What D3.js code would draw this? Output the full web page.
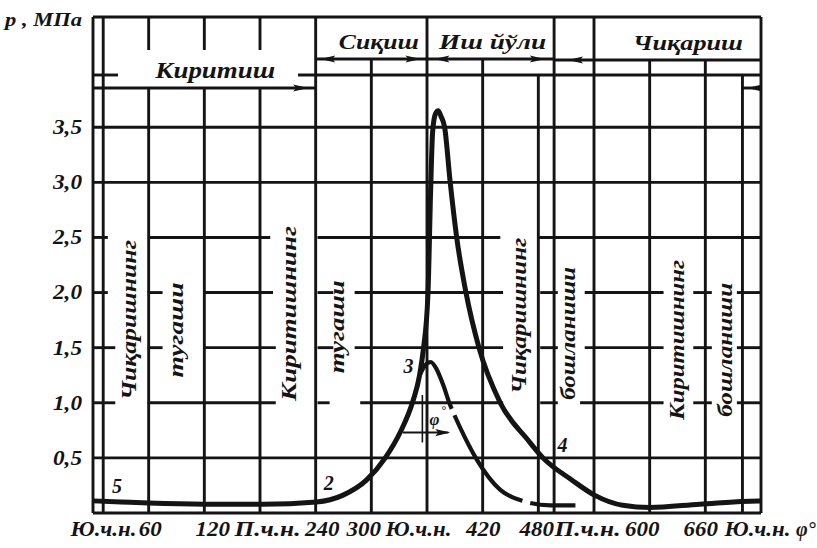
<!DOCTYPE html>
<html><head><meta charset="utf-8">
<script src="https://cdn.jsdelivr.net/npm/d3@7"></script>
<style>
html,body{margin:0;padding:0;background:#fff;}
svg text{font-family:"Liberation Serif","Times New Roman",serif;font-weight:bold;font-style:italic;fill:#141414;}
</style></head><body>
<svg id="c" width="817" height="548"></svg>
<script>
// ---------- data ----------
const angleTicks = [0,60,120,180,240,300,360,420,480,540,600,660,720];
const angleTickLabels = ["Ю.ч.н.","60","120","П.ч.н.","240","300","Ю.ч.н.","420","480","П.ч.н.","600","660","Ю.ч.н."];
const pressureTicks = [0.5,1.0,1.5,2.0,2.5,3.0,3.5];
const pressureTickLabels = ["0,5","1,0","1,5","2,0","2,5","3,0","3,5"];

// working cycle (indicator) curve: crank angle, deg / pressure, MPa
const cycleAngle    = [0,30,60,120,183,241,269,295,315,331,345,352,356,361,364,366,369,372,375,379,385,392,402,416,439,469,485,516,541,571,600,654,717,720];
const cyclePressure = [0.11,0.10,0.09,0.08,0.08,0.10,0.16,0.30,0.50,0.73,1.02,1.25,1.48,1.98,2.95,3.45,3.62,3.65,3.60,3.50,3.00,2.50,2.00,1.50,1.00,0.66,0.50,0.30,0.16,0.07,0.05,0.08,0.11,0.11];

// compression without ignition (dashed)
const motorAngle    = [352,358,364,370,378,384,390,400,414,439,463,493,520];
const motorPressure = [1.25,1.34,1.37,1.31,1.15,1.00,0.88,0.70,0.48,0.21,0.11,0.07,0.07];

const pointLabels = ["5","2","3","4"];
const pointAngles = [26, 254, 340, 506];
const pointPressures = [0.18, 0.21, 1.27, 0.55];

const sideLabels = ["Чиқаришнинг","тугаши","Киритишнинг","тугаши","Чиқаришнинг","бошланиши","Киритишнинг","бошланиши"];
const sideAngles = [38, 89, 211, 263, 459, 512, 629, 681];
const sidePressures = [1.75,1.66,1.81,1.69,1.79,1.63,1.57,1.48];

const strokeNames = ["Киритиш","Сиқиш","Иш йўли","Чиқариш"];

// ---------- layout ----------
const INK = "#141414";
const x = d3.scaleLinear().domain([0,720]).range([93,761]);
const y = d3.scaleLinear().domain([0,4.5]).range([513,17]);
const svg = d3.select("#c");
const g = svg.append("g");

// horizontal grid segments (deg ranges)
const hGrid = [
  {p:0,   segs:[[0,720]]},
  {p:0.5, segs:[[0,720]]},
  {p:1.0, segs:[[0,24],[59,197],[242,255],[288,442],[482,501],[525,615],[647,667],[694,720]]},
  {p:1.5, segs:[[0,24],[59,75],[120,197],[242,259],[282,442],[482,501],[530,615],[647,667],[694,720]]},
  {p:2.0, segs:[[0,16],[59,75],[120,194],[242,259],[282,442],[482,501],[530,615],[647,667],[694,720]]},
  {p:2.5, segs:[[0,16],[61,191],[242,439],[480,720]]},
  {p:3.0, segs:[[0,720]]},
  {p:3.5, segs:[[0,720]]}
];
hGrid.forEach(r => r.segs.forEach(s => {
  g.append("line").attr("x1",x(s[0])).attr("x2",x(s[1]))
    .attr("y1",y(r.p)).attr("y2",y(r.p))
    .attr("stroke",INK).attr("stroke-width",2.9);
}));

// vertical grid lines (header layout in px)
const vGrid = [
  {a:0,   segs:[[17,513]]},
  {a:11,  segs:[[17,513]]},
  {a:60,  segs:[[17,50],[88,513]]},
  {a:120, segs:[[17,50],[88,513]]},
  {a:180, segs:[[17,50],[88,513]]},
  {a:240, segs:[[17,513]]},
  {a:300, segs:[[59,513]]},
  {a:360, segs:[[17,513]]},
  {a:420, segs:[[59,513]]},
  {a:480, segs:[[75,513]]},
  {a:497, segs:[[17,513]]},
  {a:540, segs:[[17,513]]},
  {a:600, segs:[[60,513]]},
  {a:660, segs:[[60,513]]},
  {a:700, segs:[[75,513]]},
  {a:720, segs:[[17,513]]}
];
vGrid.forEach(r => r.segs.forEach(s => {
  g.append("line").attr("x1",x(r.a)).attr("x2",x(r.a))
    .attr("y1",s[0]).attr("y2",s[1])
    .attr("stroke",INK).attr("stroke-width",2.9);
}));

// header lines
function hline(a0,a1,yy){
  g.append("line").attr("x1",x(a0)).attr("x2",x(a1)).attr("y1",yy).attr("y2",yy)
   .attr("stroke",INK).attr("stroke-width",2.9);
}
function arrowHead(tipX, yy, dir){
  const L = 15, h = 3.6;
  g.append("path")
   .attr("d",`M${tipX},${yy} L${tipX-dir*L},${yy-h} L${tipX-dir*L*0.8},${yy} L${tipX-dir*L},${yy+h} Z`)
   .attr("fill",INK);
}
hline(0,720,17);
hline(0,27,75); hline(221,720,75);
hline(0,240,88); arrowHead(x(232),88,1);
hline(240,360,59); arrowHead(x(245),59,-1); arrowHead(x(353),59,1);
hline(360,497,59); arrowHead(x(368),59,-1); arrowHead(x(487),59,1);
hline(497,720,60); arrowHead(x(512),60,-1);
hline(700,720,88); arrowHead(x(705),88,-1);

// header labels
const hdr = [
  {t:strokeNames[0], a:67,  yy:78, len:120, fs:24},
  {t:strokeNames[1], a:265, yy:49, len:80,  fs:21},
  {t:strokeNames[2], a:373, yy:49, len:107, fs:21},
  {t:strokeNames[3], a:582, yy:50, len:110, fs:21}
];
hdr.forEach(h => {
  g.append("text").attr("x",x(h.a)).attr("y",h.yy).attr("font-size",h.fs)
   .attr("textLength",h.len).attr("lengthAdjust","spacingAndGlyphs").text(h.t);
});

// side (rotated) labels
const sideLen = [160,95,175,93,156,133,160,134];
sideLabels.forEach((t,i) => {
  g.append("text")
   .attr("transform",`translate(${x(sideAngles[i])},${y(sidePressures[i])}) rotate(-90)`)
   .attr("text-anchor","middle").attr("dy","0.35em").attr("font-size",21)
   .attr("textLength",sideLen[i]).attr("lengthAdjust","spacingAndGlyphs").text(t);
});

// curves
const line = d3.line().x(d=>x(d[0])).y(d=>y(d[1])).curve(d3.curveMonotoneX);
const cycle = cycleAngle.map((a,i)=>[a,cyclePressure[i]]);
const motor = motorAngle.map((a,i)=>[a,motorPressure[i]]);

g.append("path").datum(motor).attr("d",line).attr("fill","none")
 .attr("stroke",INK).attr("stroke-width",4.2).attr("stroke-dasharray","70 7 113 8 200");
g.append("path").datum(cycle).attr("d",line).attr("fill","none")
 .attr("stroke",INK).attr("stroke-width",5).attr("stroke-linejoin","round");

// phi annotation
g.append("line").attr("x1",x(355)).attr("x2",x(355)).attr("y1",y(1.07)).attr("y2",y(0.64))
 .attr("stroke",INK).attr("stroke-width",1.6);
g.append("line").attr("x1",x(334)).attr("x2",x(383)).attr("y1",y(0.73)).attr("y2",y(0.73))
 .attr("stroke",INK).attr("stroke-width",2);
arrowHead(x(385),y(0.73),1);
g.append("text").attr("x",x(368)).attr("y",y(0.80)).attr("font-size",17)
 .attr("text-anchor","middle").text("φ");
g.append("text").attr("x",x(375)).attr("y",y(0.90)).attr("font-size",12).text("°");

// point labels
pointLabels.forEach((t,i)=>{
  g.append("text").attr("x",x(pointAngles[i])).attr("y",y(pointPressures[i]))
   .attr("font-size",20).attr("text-anchor","middle").text(t);
});

// axes
const xNudge = [10,1,8,7,6,-8,-9,0,-2,-7,-8,-5,-4];
const xAxis = d3.axisBottom(x).tickValues(angleTicks)
  .tickFormat((d,i)=>angleTickLabels[i]).tickSize(0).tickPadding(9);
const xa = svg.append("g").attr("transform",`translate(0,${y(0)})`).call(xAxis);
xa.attr("font-family",null).attr("font-size",null);
xa.select(".domain").remove();
xa.selectAll("text").attr("font-size",20).attr("fill",INK)
  .attr("dx",(d,i)=>xNudge[i])
  .attr("textLength",(d,i)=>/\d/.test(angleTickLabels[i]) ? angleTickLabels[i].length*11.5 : 66)
  .attr("lengthAdjust","spacingAndGlyphs");
svg.append("text").attr("x",796).attr("y",536).attr("font-size",20).text("φ°");

const yAxis = d3.axisLeft(y).tickValues(pressureTicks)
  .tickFormat((d,i)=>pressureTickLabels[i]).tickSize(0).tickPadding(9);
const ya = svg.append("g").attr("transform",`translate(${x(0)-2},0)`).call(yAxis);
ya.attr("font-family",null).attr("font-size",null);
ya.select(".domain").remove();
ya.selectAll("text").attr("font-size",20).attr("fill",INK)
  .attr("textLength",29).attr("lengthAdjust","spacingAndGlyphs");

svg.append("text").attr("x",5).attr("y",26).attr("font-size",18)
  .attr("textLength",77).attr("lengthAdjust","spacingAndGlyphs").text("p , МПа");
</script>
</body></html>
